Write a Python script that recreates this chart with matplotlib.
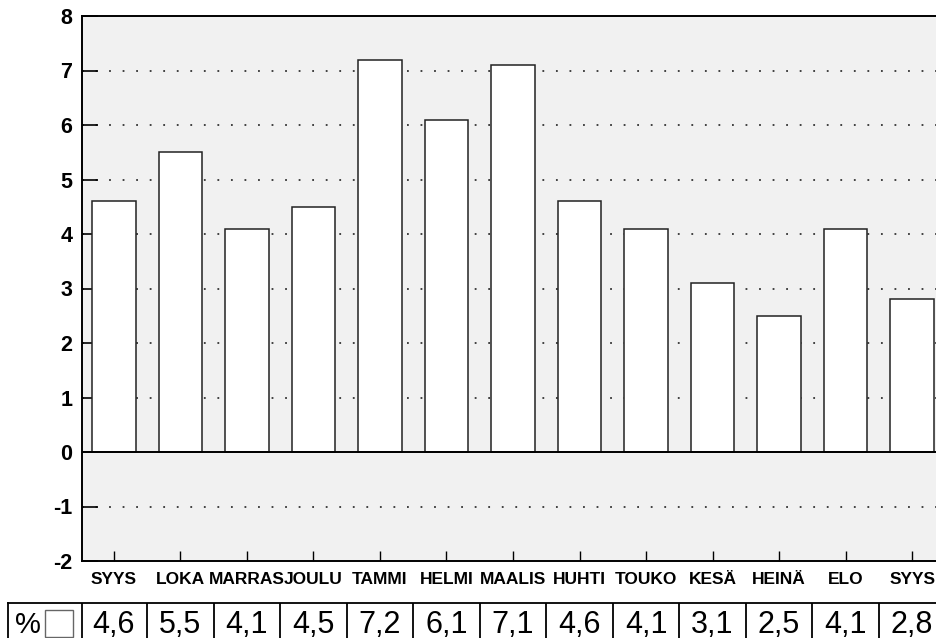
import numpy as np
import matplotlib
matplotlib.use('Agg')
import matplotlib.pyplot as plt
from matplotlib.patches import Rectangle

months = ['SYYS', 'LOKA', 'MARRAS', 'JOULU', 'TAMMI', 'HELMI', 'MAALIS',
          'HUHTI', 'TOUKO', 'KESÄ', 'HEINÄ', 'ELO', 'SYYS']
values = [4.6, 5.5, 4.1, 4.5, 7.2, 6.1, 7.1, 4.6, 4.1, 3.1, 2.5, 4.1, 2.8]
value_labels = ['4,6', '5,5', '4,1', '4,5', '7,2', '6,1', '7,1',
                '4,6', '4,1', '3,1', '2,5', '4,1', '2,8']
yticks = [-2, -1, 0, 1, 2, 3, 4, 5, 6, 7, 8]
grid_levels = [-1, 1, 2, 3, 4, 5, 6, 7]

plt.rcParams['font.family'] = ['Liberation Sans', 'DejaVu Sans']

W, H = 936, 638
fig = plt.figure(figsize=(W / 100, H / 100), dpi=100)

# main axes: left spine at x=82, top at y=16, bottom at y=561; right side runs off the page
ax = fig.add_axes([82 / W, (H - 561) / H, (944 - 82) / W, (561 - 16) / H])
ax.set_facecolor('#f1f1f1')
x = np.arange(len(months))

for g in grid_levels:
    ax.axhline(g, color='#333333', lw=1.3, ls=(0, (1, 6.5)), zorder=1)
ax.axhline(0, color='black', lw=1.4, zorder=3)

ax.bar(x, values, width=0.65, color='white', edgecolor='#222222', lw=1.1, zorder=2)

ax.set_xlim(-0.48, 12.48)
ax.set_ylim(-2, 8)
ax.set_yticks(yticks)
ax.set_yticklabels([str(t) for t in yticks], fontsize=15.5, fontweight='bold')
ax.set_xticks(x)
ax.set_xticklabels(months, fontsize=12.5, fontweight='bold')
ax.tick_params(axis='y', direction='in', length=11.5, width=1.2, pad=7)
ax.tick_params(axis='x', direction='in', length=7, width=1.0, pad=8)
for s in ['left', 'top', 'bottom']:
    ax.spines[s].set_linewidth(1.4)
ax.spines['right'].set_visible(False)

# value table under the chart
tab = fig.add_axes([8 / W, 0, (944 - 8) / W, (H - 603) / H])
tab.set_xlim(-0.48 - 74 / 66.5, 12.48)
tab.set_ylim(0, 1)
tab.set_xticks([])
tab.set_yticks([])
tab.spines['bottom'].set_visible(False)
tab.spines['right'].set_visible(False)
for s in ['left', 'top']:
    tab.spines[s].set_linewidth(1.3)
tab.axvline(-0.48, color='black', lw=1.3)
for i in x[:-1]:
    tab.axvline(i + 0.5, color='black', lw=1.3)
for i, lab in zip(x, value_labels):
    tab.text(i, 0.38, lab, ha='center', va='center', fontsize=22)
tab.text(-0.48 - 54 / 66.5, 0.38, '%', ha='center', va='center', fontsize=21)
tab.add_patch(Rectangle((-0.48 - 37 / 66.5, 0.03), 28 / 66.5, 0.77,
                        facecolor='white', edgecolor='#666666', lw=1.0))

fig.savefig('out.png', dpi=100)
